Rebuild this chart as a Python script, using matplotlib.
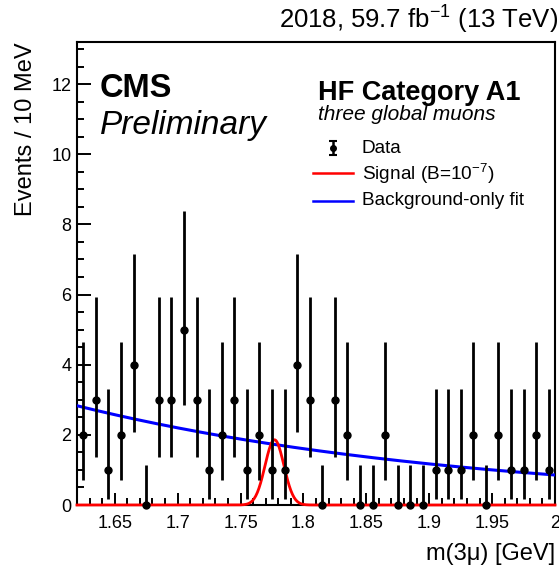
import numpy as np
import matplotlib
matplotlib.use("Agg")
import matplotlib.pyplot as plt
from matplotlib.ticker import MultipleLocator, FixedLocator
from matplotlib.lines import Line2D

plt.rcParams['font.family'] = ['Liberation Sans', 'DejaVu Sans']
plt.rcParams['mathtext.fontset'] = 'custom'
plt.rcParams['mathtext.rm'] = 'Liberation Sans'
plt.rcParams['mathtext.it'] = 'Liberation Sans:italic'

# --- data: events per 10 MeV bin in m(3mu) ---
bin_centers = [1.625, 1.635, 1.645, 1.655, 1.665, 1.675, 1.685, 1.695, 1.705, 1.715,
               1.725, 1.735, 1.745, 1.755, 1.765, 1.775, 1.785, 1.795, 1.805, 1.815,
               1.825, 1.835, 1.845, 1.855, 1.865, 1.875, 1.885, 1.895, 1.905, 1.915,
               1.925, 1.935, 1.945, 1.955, 1.965, 1.975, 1.985, 1.995]
counts = [2, 3, 1, 2, 4, 0, 3, 3, 5, 3,
          1, 2, 3, 1, 2, 1, 1, 4, 3, 0,
          3, 2, 0, 0, 2, 0, 0, 0, 1, 1,
          1, 2, 0, 2, 1, 1, 2, 1]

# Poisson interval bounds (lower, upper) for a given observed count
poisson_low = [0.0, 0.173, 0.708, 1.367, 2.086, 2.840]
poisson_high = [1.147, 3.300, 4.638, 5.918, 7.163, 8.382]

# background-only fit (exponential) and signal shape (Gaussian)
bkg_norm = 2.83      # events/bin at m = 1.62 GeV
bkg_slope = -3.15    # 1/GeV
sig_peak = 1.86      # events/bin at the peak
sig_mean = 1.777     # GeV
sig_width = 0.0075   # GeV

x_range = (1.62, 2.0)
y_range = (0, 13.2)
x_major = [1.65, 1.7, 1.75, 1.8, 1.85, 1.9, 1.95, 2.0]
x_labels = ["1.65", "1.7", "1.75", "1.8", "1.85", "1.9", "1.95", "2"]

fig = plt.figure(figsize=(5.59, 5.70), dpi=100)
ax = fig.add_axes([77 / 559, 1 - 505 / 570, 478 / 559, 463 / 570])

# fitted curves
m = np.linspace(x_range[0], x_range[1], 600)
bkg = bkg_norm * np.exp(bkg_slope * (m - x_range[0]))
sig = sig_peak * np.exp(-0.5 * ((m - sig_mean) / sig_width) ** 2)
ax.plot(m, sig, color='#ff0000', lw=2.0, zorder=5, clip_on=False)
ax.plot(m, bkg, color='#0000ff', lw=2.2, zorder=4)

# data with asymmetric Poisson errors
x = np.array(bin_centers)
n = np.array(counts)
lo = np.array([poisson_low[k] for k in counts])
hi = np.array([poisson_high[k] for k in counts])
ax.errorbar(x, n, yerr=[n - lo, hi - n], fmt='o', color='black', ms=5,
            elinewidth=2.0, capsize=0, zorder=6, clip_on=False)

ax.set_xlim(*x_range)
ax.set_ylim(*y_range)

ax.xaxis.set_major_locator(FixedLocator(x_major))
ax.set_xticklabels(x_labels)
ax.xaxis.set_minor_locator(MultipleLocator(0.01))
ax.yaxis.set_major_locator(MultipleLocator(2))
ax.yaxis.set_minor_locator(MultipleLocator(0.5))
ax.tick_params(axis='both', which='both', direction='in', top=False, right=False,
               width=1.4, labelsize=13)
ax.tick_params(axis='y', which='major', length=10, pad=4)
ax.tick_params(axis='y', which='minor', length=5)
ax.tick_params(axis='x', which='major', length=9, pad=7)
ax.tick_params(axis='x', which='minor', length=5)
for s in ax.spines.values():
    s.set_linewidth(1.5)

ax.set_ylabel("Events / 10 MeV", fontsize=17, loc='top', labelpad=10)
ax.set_xlabel("m(3μ) [GeV]", fontsize=17, loc='right', labelpad=8)

fig.text(0.998, 1 - 29 / 570, "2018, 59.7 fb$^{-1}$ (13 TeV)", fontsize=18.5,
         ha='right', va='baseline')

ax.text(0.048, 0.881, "CMS", transform=ax.transAxes, fontsize=23.5,
        fontweight='bold', va='baseline')
ax.text(0.048, 0.801, "Preliminary", transform=ax.transAxes, fontsize=24,
        style='italic', va='baseline')

ax.text(0.504, 0.875, "HF Category A1", transform=ax.transAxes, fontsize=19.5,
        fontweight='bold', va='baseline')
ax.text(0.504, 0.831, "three global muons", transform=ax.transAxes, fontsize=15,
        style='italic', va='baseline')

# legend
leg_x_txt = 0.596
ax.errorbar([0.5356], [0.771], yerr=[[0.016], [0.016]], fmt='o', color='black',
            ms=4, elinewidth=1.8, capsize=3, capthick=1.5,
            transform=ax.transAxes, clip_on=False, zorder=7)
ax.add_line(Line2D([0.494, 0.577], [0.717, 0.717], color='#ff0000', lw=1.8,
                   transform=ax.transAxes))
ax.add_line(Line2D([0.494, 0.577], [0.657, 0.657], color='#0000ff', lw=1.8,
                   transform=ax.transAxes))
ax.text(leg_x_txt, 0.771, "Data", transform=ax.transAxes, fontsize=13.7, va='center')
ax.text(leg_x_txt, 0.715, "Signal (B=10$^{-7}$)", transform=ax.transAxes,
        fontsize=13.7, va='center')
ax.text(leg_x_txt, 0.657, "Background-only fit", transform=ax.transAxes,
        fontsize=13.7, va='center')

fig.savefig("out.png", dpi=100)
